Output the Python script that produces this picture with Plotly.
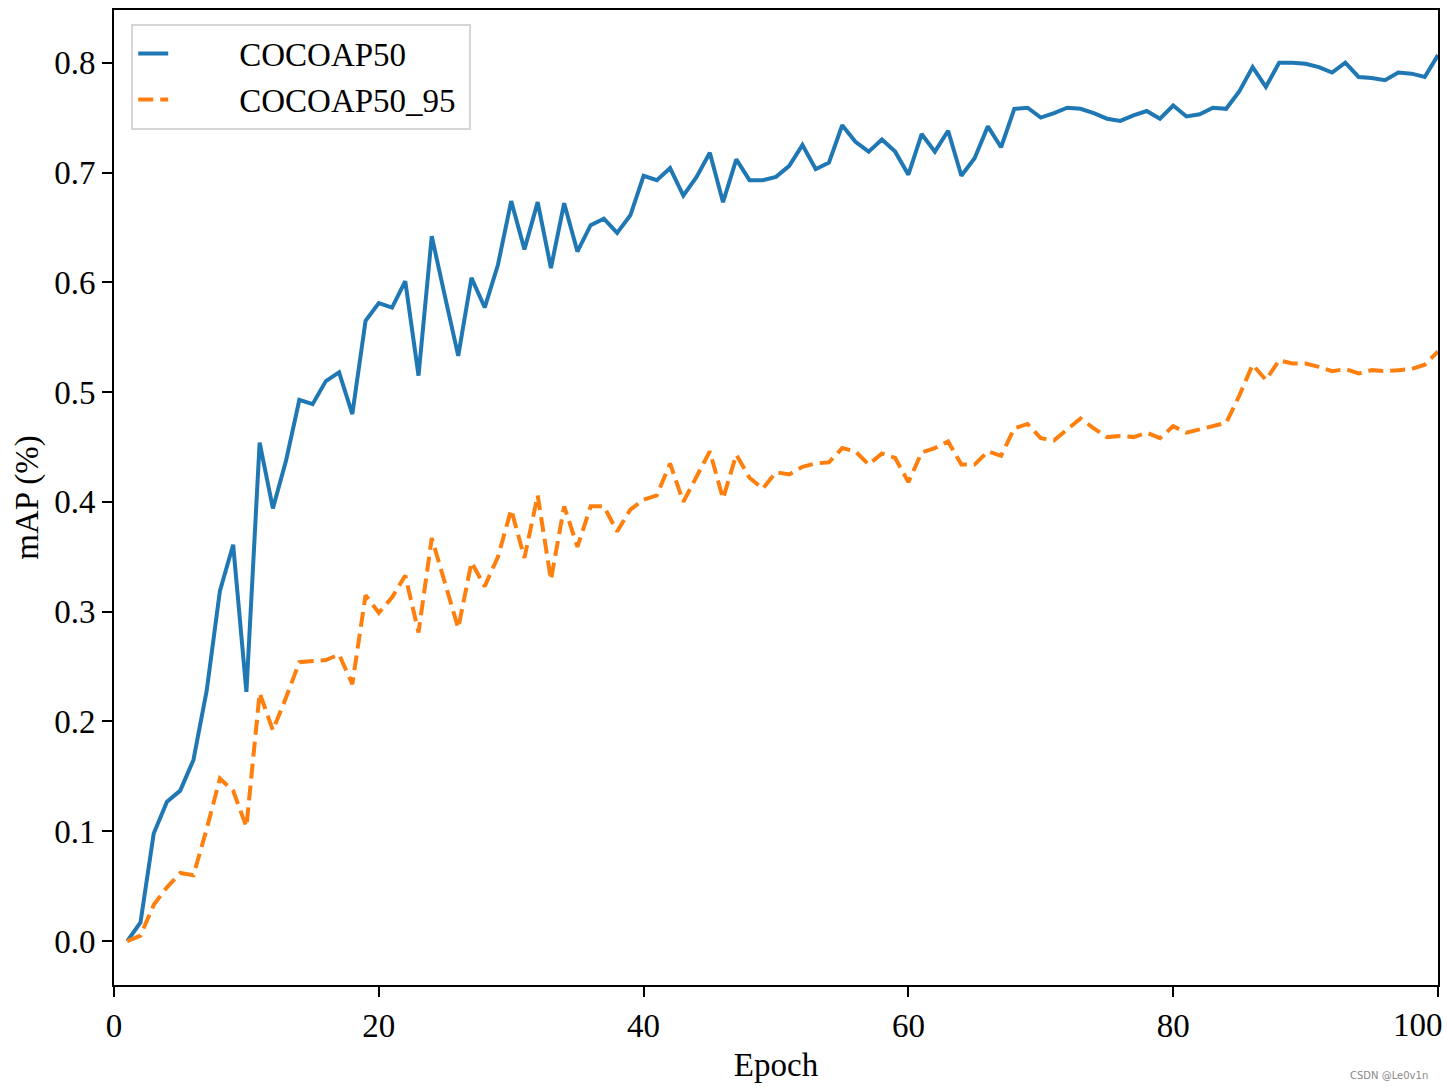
import plotly.graph_objects as go

epochs = list(range(1, 101))

coco_ap50 = [
    0.000, 0.017, 0.098, 0.127, 0.137, 0.165, 0.228, 0.319, 0.361, 0.227,
    0.454, 0.394, 0.438, 0.493, 0.489, 0.510, 0.518, 0.480, 0.565, 0.581,
    0.577, 0.601, 0.515, 0.642, 0.587, 0.533, 0.604, 0.577, 0.616, 0.674,
    0.630, 0.673, 0.613, 0.672, 0.628, 0.652, 0.658, 0.645, 0.661, 0.697,
    0.693, 0.704, 0.679, 0.696, 0.718, 0.673, 0.712, 0.693, 0.693, 0.696,
    0.706, 0.725, 0.703, 0.709, 0.743, 0.728, 0.719, 0.730, 0.719, 0.698,
    0.735, 0.719, 0.738, 0.697, 0.713, 0.742, 0.723, 0.758, 0.759, 0.750,
    0.754, 0.759, 0.758, 0.754, 0.749, 0.747, 0.752, 0.756, 0.749, 0.761,
    0.751, 0.753, 0.759, 0.758, 0.774, 0.796, 0.778, 0.800, 0.800, 0.799,
    0.796, 0.791, 0.800, 0.787, 0.786, 0.784, 0.791, 0.790, 0.787, 0.807,
]

coco_ap50_95 = [
    0.000, 0.005, 0.033, 0.049, 0.062, 0.060, 0.102, 0.148, 0.137, 0.104,
    0.226, 0.192, 0.222, 0.254, 0.255, 0.256, 0.261, 0.234, 0.315, 0.299,
    0.313, 0.333, 0.281, 0.367, 0.326, 0.285, 0.345, 0.323, 0.350, 0.393,
    0.349, 0.406, 0.329, 0.396, 0.359, 0.396, 0.396, 0.373, 0.393, 0.402,
    0.406, 0.435, 0.400, 0.423, 0.446, 0.403, 0.443, 0.422, 0.412, 0.427,
    0.425, 0.432, 0.435, 0.436, 0.449, 0.446, 0.434, 0.444, 0.440, 0.418,
    0.445, 0.449, 0.455, 0.434, 0.434, 0.446, 0.442, 0.467, 0.471, 0.458,
    0.456, 0.466, 0.476, 0.467, 0.459, 0.460, 0.459, 0.463, 0.458, 0.469,
    0.463, 0.466, 0.469, 0.472, 0.497, 0.525, 0.511, 0.529, 0.526, 0.526,
    0.523, 0.519, 0.521, 0.517, 0.520, 0.519, 0.520, 0.521, 0.525, 0.537,
]

x_ticks = [0, 20, 40, 60, 80, 100]
y_ticks = [0.0, 0.1, 0.2, 0.3, 0.4, 0.5, 0.6, 0.7, 0.8]

font_family = "Liberation Serif, Times New Roman, serif"
fs = 33
pad = "\u00a0" * 8  # push legend text right, matplotlib-style longer handles

# drop the default body margin so the figure fills the window exactly
body_js = "document.body.style.margin='0';"


def main():
    fig = go.Figure()
    fig.add_trace(go.Scatter(x=epochs, y=coco_ap50, mode="lines", name=pad + "COCOAP50",
                             line=dict(color="#1f77b4", width=4)))
    fig.add_trace(go.Scatter(x=epochs, y=coco_ap50_95, mode="lines",
                             name=pad + "COCOAP50_95\u00a0",
                             line=dict(color="#ff7f0e", width=4, dash="15px,7px")))

    axis_style = dict(showline=True, linecolor="black", linewidth=2, mirror=True,
                      ticks="outside", ticklen=10, tickwidth=2, tickcolor="black",
                      showgrid=False, zeroline=False,
                      tickfont=dict(size=fs, color="black"))

    # last tick label (100) would spill past the window; plotly hides it, so it is
    # drawn below as an annotation pinned to the right edge
    fig.update_xaxes(range=[0, 100], tickvals=x_ticks,
                     title=dict(text="Epoch", font=dict(size=fs, color="black"), standoff=10),
                     **axis_style)
    fig.update_yaxes(range=[-0.04, 0.848], tickvals=y_ticks, tickformat=".1f",
                     title=dict(text="mAP (%)", font=dict(size=fs, color="black"), standoff=6),
                     **axis_style)

    fig.update_layout(
        width=1447, height=1090,
        margin=dict(l=114, r=7, t=10, b=105),
        plot_bgcolor="white", paper_bgcolor="white",
        font=dict(family=font_family, size=fs, color="black"),
        legend=dict(x=0.013, y=0.986, xanchor="left", yanchor="top",
                    bgcolor="rgba(255,255,255,0.8)", bordercolor="#d5d5d5", borderwidth=2,
                    font=dict(size=fs)),
    )

    fig.add_annotation(text=str(x_ticks[-1]), xref="paper", yref="paper", x=1.0053, y=-0.020,
                       xanchor="right", yanchor="top", showarrow=False,
                       font=dict(size=fs, color="black"))

    # watermark
    fig.add_annotation(text="CSDN @Le0v1n", xref="paper", yref="paper", x=0.994, y=-0.093,
                       xanchor="right", yanchor="middle", showarrow=False,
                       font=dict(family="DejaVu Sans, sans-serif", size=10, color="#888888"))

    fig.write_html("out.html", post_script=body_js, config={"displayModeBar": False})


if __name__ == '__main__':
    main()
